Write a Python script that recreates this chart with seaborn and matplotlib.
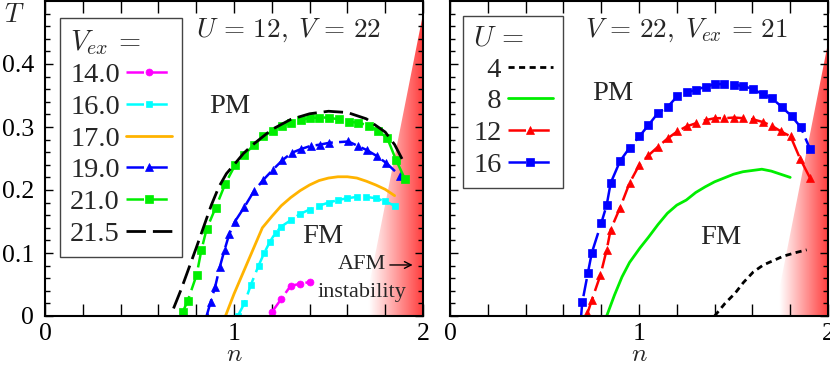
import numpy as np
import matplotlib
matplotlib.use("Agg")
import matplotlib.pyplot as plt
from matplotlib.colors import LinearSegmentedColormap
from matplotlib.patches import Polygon
import seaborn as sns

# ---- left panel: U = 12, V = 22, several V_ex ----
n_14 = [1.20, 1.25, 1.30, 1.35, 1.40]
T_14 = [0.006, 0.027, 0.048, 0.051, 0.054]

n_16 = [1.02, 1.055, 1.09, 1.13, 1.16, 1.19, 1.22, 1.25, 1.30, 1.35, 1.40,
        1.45, 1.50, 1.55, 1.60, 1.65, 1.70, 1.75, 1.80, 1.85]
T_16 = [0.000, 0.020, 0.050, 0.080, 0.100, 0.118, 0.132, 0.142, 0.152, 0.162,
        0.169, 0.175, 0.180, 0.184, 0.187, 0.189, 0.189, 0.187, 0.182, 0.175]

n_17 = [0.955, 1.00, 1.05, 1.10, 1.15, 1.20, 1.25, 1.30, 1.35, 1.40, 1.45,
        1.50, 1.55, 1.60, 1.65, 1.70, 1.75, 1.80, 1.85]
T_17 = [0.000, 0.035, 0.070, 0.105, 0.140, 0.158, 0.175, 0.188, 0.199, 0.208,
        0.215, 0.219, 0.221, 0.221, 0.219, 0.214, 0.208, 0.201, 0.191]

n_19 = [0.855, 0.877, 0.90, 0.925, 0.95, 0.975, 1.005, 1.055, 1.105, 1.155,
        1.205, 1.255, 1.305, 1.355, 1.405, 1.455, 1.505, 1.605, 1.655, 1.705,
        1.755, 1.805, 1.88]
T_19 = [0.000, 0.023, 0.046, 0.078, 0.105, 0.130, 0.150, 0.173, 0.198, 0.216,
        0.232, 0.247, 0.259, 0.265, 0.270, 0.272, 0.275, 0.277, 0.270, 0.263,
        0.254, 0.243, 0.222]

n_21 = [0.728, 0.755, 0.802, 0.827, 0.855, 0.903, 0.954, 1.005, 1.055, 1.106,
        1.155, 1.205, 1.252, 1.302, 1.352, 1.40, 1.45, 1.50, 1.555, 1.61,
        1.658, 1.716, 1.76, 1.81, 1.857, 1.905]
T_21 = [0.006, 0.024, 0.065, 0.104, 0.138, 0.172, 0.210, 0.239, 0.256, 0.272,
        0.285, 0.294, 0.302, 0.306, 0.311, 0.314, 0.315, 0.315, 0.312, 0.308,
        0.307, 0.302, 0.294, 0.283, 0.248, 0.217]

n_215 = [0.68, 0.72, 0.76, 0.80, 0.84, 0.88, 0.92, 0.96, 1.00, 1.05, 1.10,
         1.20, 1.30, 1.40, 1.50, 1.60, 1.70, 1.80, 1.85, 1.90]
T_215 = [0.012, 0.042, 0.075, 0.108, 0.142, 0.176, 0.205, 0.226, 0.240, 0.258,
         0.272, 0.296, 0.312, 0.321, 0.325, 0.323, 0.313, 0.292, 0.272, 0.243]

# ---- right panel: V = 22, V_ex = 21, several U ----
n_u4 = [1.40, 1.455, 1.508, 1.552, 1.605, 1.658, 1.711, 1.764, 1.834, 1.887]
T_u4 = [0.000, 0.020, 0.036, 0.053, 0.070, 0.081, 0.088, 0.095, 0.101, 0.105]

n_u8 = [0.829, 0.87, 0.91, 0.95, 1.005, 1.05, 1.10, 1.15, 1.20, 1.25, 1.30,
        1.35, 1.40, 1.45, 1.50, 1.55, 1.60, 1.65, 1.70, 1.75, 1.80]
T_u8 = [0.000, 0.033, 0.062, 0.085, 0.108, 0.125, 0.145, 0.163, 0.176, 0.184,
        0.196, 0.205, 0.213, 0.219, 0.225, 0.229, 0.231, 0.233, 0.230, 0.225,
        0.220]

n_u12 = [0.727, 0.750, 0.796, 0.829, 0.850, 0.900, 0.950, 1.002, 1.050, 1.102,
         1.152, 1.203, 1.252, 1.302, 1.353, 1.402, 1.451, 1.503, 1.552, 1.605,
         1.654, 1.702, 1.751, 1.802, 1.852, 1.905]
T_u12 = [0.004, 0.025, 0.065, 0.105, 0.137, 0.172, 0.211, 0.240, 0.255, 0.269,
         0.282, 0.293, 0.301, 0.306, 0.311, 0.314, 0.314, 0.315, 0.314, 0.312,
         0.308, 0.302, 0.293, 0.285, 0.250, 0.219]

n_u16 = [0.692, 0.700, 0.730, 0.750, 0.800, 0.829, 0.850, 0.900, 0.950, 1.002,
         1.050, 1.100, 1.152, 1.203, 1.252, 1.302, 1.353, 1.402, 1.451, 1.503,
         1.552, 1.605, 1.654, 1.702, 1.755, 1.808, 1.855, 1.905]
T_u16 = [-0.006, 0.022, 0.069, 0.100, 0.147, 0.176, 0.211, 0.246, 0.267, 0.285,
         0.303, 0.322, 0.332, 0.349, 0.355, 0.359, 0.364, 0.368, 0.368, 0.367,
         0.365, 0.360, 0.352, 0.346, 0.332, 0.317, 0.300, 0.265]

left_labels = ["14.0", "16.0", "17.0", "19.0", "21.0", "21.5"]
right_labels = ["  4", "  8", "12", "16"]

sns.set_theme(style="ticks")
plt.rcParams["font.family"] = "serif"
plt.rcParams["font.serif"] = ["Liberation Serif", "DejaVu Serif"]
plt.rcParams["mathtext.fontset"] = "cm"

DASH = (0, (7, 2.5))
DOT = (0, (2.2, 1.6))

# white -> red colour ramp used for the AFM instability region
afm_cmap = LinearSegmentedColormap.from_list("afm", ["#ffffff", "#ff3b3b"])


def afm_region(ax, corners, n_white):
    xs = np.linspace(1.5, 2.0, 300)
    vals = np.clip((xs - n_white) / (2.0 - n_white), 0, 1)
    img = ax.imshow(vals[None, :], extent=(1.5, 2.0, 0, 0.5), origin="lower",
                    cmap=afm_cmap, vmin=0, vmax=1, aspect="auto",
                    interpolation="bilinear", zorder=0)
    poly = Polygon(corners, closed=True, facecolor="none", edgecolor="none")
    ax.add_patch(poly)
    img.set_clip_path(poly)


def curve(ax, n, T, color, ls, marker=None, ms=5, lw=1.8):
    kw = dict(color=color, linestyle=ls, linewidth=lw)
    if marker:
        kw.update(marker=marker, markersize=ms, markeredgecolor=color,
                  markerfacecolor=color, markeredgewidth=0.5)
    sns.lineplot(x=n, y=T, ax=ax, errorbar=None, sort=False, **kw)
    return ax.lines[-1]


def style_axes(ax, show_y):
    ax.set_xlim(0, 2)
    ax.set_ylim(0, 0.5)
    xt = np.round(np.arange(0, 2.01, 0.2), 1)
    ax.set_xticks(xt)
    ax.set_xticklabels(["0" if v == 0 else "1" if v == 1 else "2" if v == 2 else ""
                        for v in xt])
    ax.set_yticks([0, 0.1, 0.2, 0.3, 0.4])
    ax.set_yticks(np.arange(0, 0.5, 0.02), minor=True)
    if show_y:
        ax.set_yticklabels(["0", "0.1", "0.2", "0.3", "0.4"])
    else:
        ax.set_yticklabels([])
    ax.tick_params(axis="both", which="both", direction="in", top=True,
                   right=True, width=1.0, colors="black", labelsize=18.5)
    ax.tick_params(axis="x", which="major", length=8.5, pad=5)
    ax.tick_params(axis="y", which="major", length=5.8, pad=8)
    ax.tick_params(axis="y", which="minor", length=3.6)
    ax.tick_params(axis="x", which="minor", bottom=False, top=False)
    for s in ax.spines.values():
        s.set_linewidth(1.5)
        s.set_color("black")
    ax.set_xlabel("$n$", fontsize=18.5, labelpad=-0.5)
    ax.set_ylabel("")
    ax.grid(False)
    ax.set_facecolor("white")


def add_legend(ax, handles, labels, title, anchor):
    leg = ax.legend(handles, labels, title=title, loc="upper left",
                    bbox_to_anchor=anchor, borderaxespad=0,
                    markerfirst=False, alignment="left", fontsize=20.5,
                    title_fontsize=20.5, handlelength=1.6, handletextpad=0.22,
                    labelspacing=0.2, borderpad=0.35, fancybox=False,
                    edgecolor="#444444", framealpha=1, numpoints=1)
    leg.get_frame().set_linewidth(1.0)
    return leg


fig = plt.figure(figsize=(8.3, 3.67), dpi=100)
axL = fig.add_axes([45 / 830, 51 / 367, 378 / 830, 315 / 367])
axR = fig.add_axes([450 / 830, 51 / 367, 378 / 830, 315 / 367])

# ---- left panel ----
afm_region(axL, [(1.68, 0), (2.0, 0), (2.0, 0.48)], 1.71)
hL = [
    curve(axL, n_14, T_14, "#ff00ff", DASH, "o", 5),
    curve(axL, n_16, T_16, "#00ffff", DASH, "s", 4.3),
    curve(axL, n_17, T_17, "#ffb300", "-", None, lw=2.0),
    curve(axL, n_19, T_19, "#0000ff", DASH, "^", 6),
    curve(axL, n_21, T_21, "#00ee00", DASH, "s", 5.5),
    curve(axL, n_215, T_215, "black", DASH, None, lw=2.0),
]
style_axes(axL, True)
axL.text(-0.08, 0.955, "$T$", transform=axL.transAxes, ha="center",
         va="center", fontsize=19)
axL.text(1.29, 0.454, r"$U\,=\,12,\;V\,=\,22$", ha="center", va="center",
         fontsize=19.5)
axL.text(0.98, 0.332, "PM", ha="center", va="center", fontsize=20.5)
axL.text(1.47, 0.126, "FM", ha="center", va="center", fontsize=20.5)
axL.text(1.676, 0.081, "AFM", ha="center", va="center", fontsize=16)
axL.text(1.676, 0.038, "instability", ha="center", va="center", fontsize=16)
axL.annotate("", xy=(1.96, 0.081), xytext=(1.81, 0.081),
             arrowprops=dict(arrowstyle="->", lw=1.0, color="black"))
add_legend(axL, hL, left_labels, r"$V_{ex}\,=$", (0.04, 0.946))

# ---- right panel ----
afm_region(axR, [(1.715, 0), (2.0, 0), (2.0, 0.433)], 1.74)
hR = [
    curve(axR, n_u4, T_u4, "black", DOT, None, lw=2.0),
    curve(axR, n_u8, T_u8, "#00ee00", "-", None, lw=2.0),
    curve(axR, n_u12, T_u12, "#ff0000", DASH, "^", 6),
    curve(axR, n_u16, T_u16, "#0000ff", DASH, "s", 5.8),
]
style_axes(axR, False)
axR.text(1.25, 0.454, r"$V\,=\,22,\;V_{ex}\,=\,21$", ha="center", va="center",
         fontsize=19.5)
axR.text(0.86, 0.353, "PM", ha="center", va="center", fontsize=20.5)
axR.text(1.43, 0.124, "FM", ha="center", va="center", fontsize=20.5)
add_legend(axR, hR, right_labels, r"$U\,=$", (0.034, 0.952))

fig.savefig("out.png", dpi=100)
